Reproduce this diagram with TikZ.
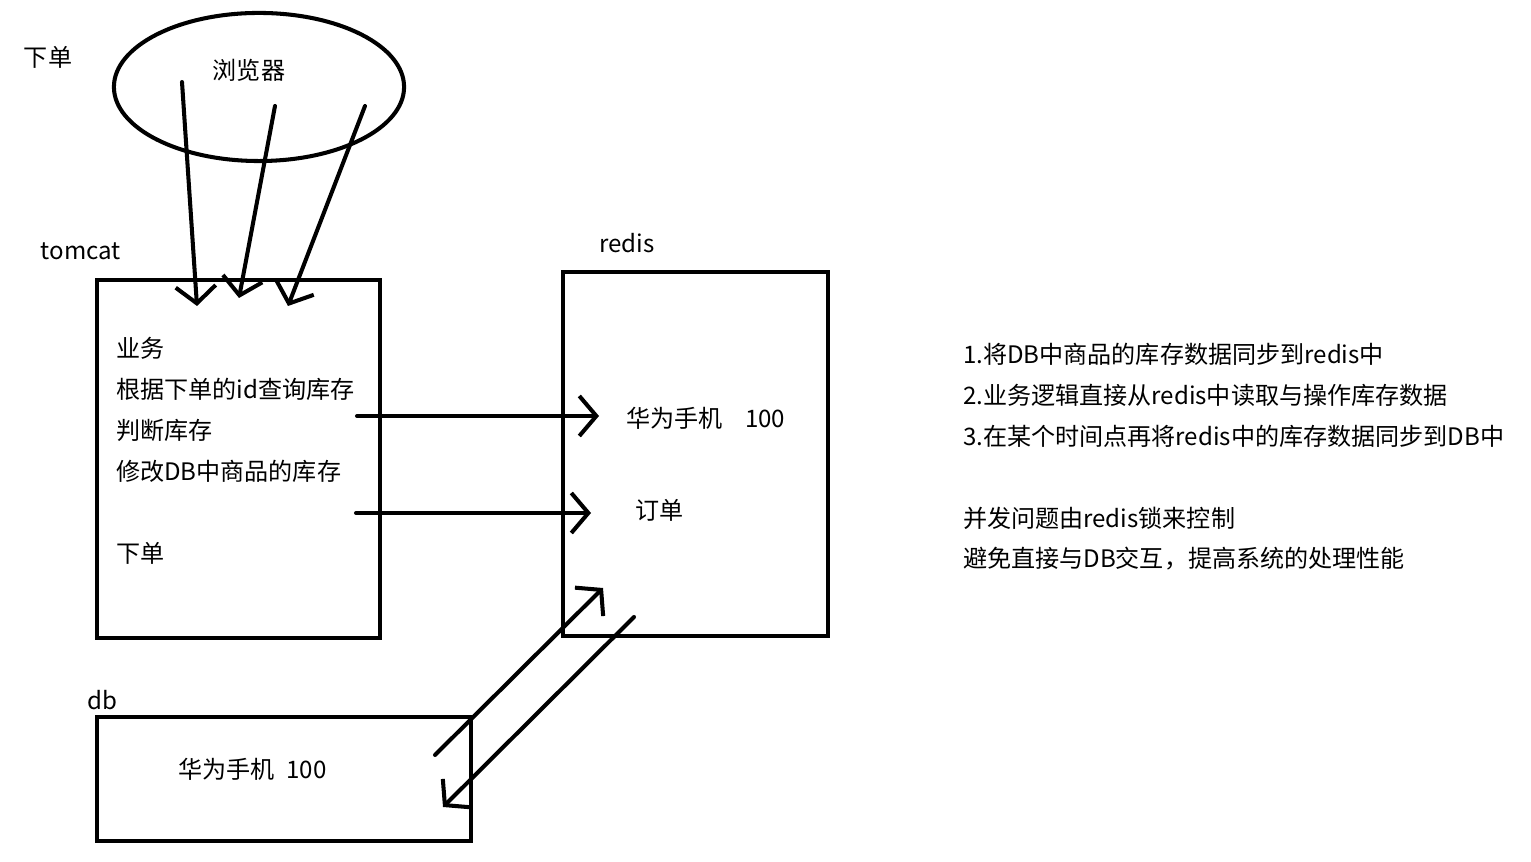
\documentclass[tikz,border=0pt]{standalone}
\usepackage{fontspec}
\setmainfont{Noto Sans CJK SC}
\usetikzlibrary{arrows.meta,shapes.geometric}

\begin{document}
\begin{tikzpicture}[x=0.01cm, y=-0.01cm, line width=1.15pt, line cap=round,
    every node/.style={font=\fontsize{6.85pt}{8pt}\selectfont, inner sep=0pt, outer sep=0pt},
    box/.style={draw, rectangle, anchor=north west, line width=1.15pt},
    lbl/.style={anchor=west, xshift=-0.02cm},
    arr/.style={-{Straight Barb[length=1.7mm,width=4mm,line width=1.15pt]}}]
    \useasboundingbox (0,0) rectangle (1531,862);

    % labels
    \node[lbl] (order) at (26,57) {下单};
    \node[lbl] (tomcatlbl) at (43,251) {tomcat};
    \node[lbl] (redislbl) at (601,243) {redis};
    \node[lbl] (dblbl) at (90,700) {db};

    % browser
    \node[draw, ellipse, line width=1.15pt, minimum width=2.9cm, minimum height=1.48cm] (browser) at (259,87) {};
    \node (browsertxt) at (249,70) {浏览器};

    % boxes
    \node[box, minimum width=2.83cm, minimum height=3.58cm] (tomcat) at (97,280) {};
    \node[box, minimum width=2.65cm, minimum height=3.64cm] (redis) at (563,272) {};
    \node[box, minimum width=3.74cm, minimum height=1.24cm] (db) at (97,717) {};

    % tomcat content
    \node[lbl] (biz) at (118,348) {业务};
    \node[lbl] (query) at (118,389) {根据下单的id查询库存};
    \node[lbl] (check) at (118,430) {判断库存};
    \node[lbl] (modify) at (118,471) {修改DB中商品的库存};
    \node[lbl] (place) at (118,553) {下单};

    % redis content
    \node[lbl] (rstock) at (628,418) {华为手机\hspace{0.95em}100};
    \node[lbl] (rorder) at (637,510) {订单};

    % db content
    \node[lbl] (dbstock) at (180,769) {华为手机\hspace{0.5em}100};

    % notes
    \node[lbl] (n1) at (965,354) {1.将DB中商品的库存数据同步到redis中};
    \node[lbl] (n2) at (965,395) {2.业务逻辑直接从redis中读取与操作库存数据};
    \node[lbl] (n3) at (965,436) {3.在某个时间点再将redis中的库存数据同步到DB中};
    \node[lbl] (n4) at (965,518) {并发问题由redis锁来控制};
    \node[lbl] (n5) at (965,559) {避免直接与DB交互，提高系统的处理性能};

    % connector ends
    \coordinate (b1) at (182,82);
    \coordinate (b2) at (275,106);
    \coordinate (b3) at (365,106);
    \coordinate (t1) at (197,306);
    \coordinate (t2) at (239,298);
    \coordinate (t3) at (288,306);
    \coordinate (q1) at (357,416);
    \coordinate (r1) at (599,416);
    \coordinate (q2) at (356,513);
    \coordinate (r2) at (591,513);
    \coordinate (d1) at (435,755);
    \coordinate (r3) at (603,588);
    \coordinate (r4) at (634,617);
    \coordinate (d2) at (443,807);

    % arrows
    \draw[arr] (b1) -- (t1);
    \draw[arr] (b2) -- (t2);
    \draw[arr] (b3) -- (t3);
    \draw[arr] (q1) -- (r1);
    \draw[arr] (q2) -- (r2);
    \draw[arr] (d1) -- (r3);
    \draw[arr] (r4) -- (d2);
\end{tikzpicture}
\end{document}
